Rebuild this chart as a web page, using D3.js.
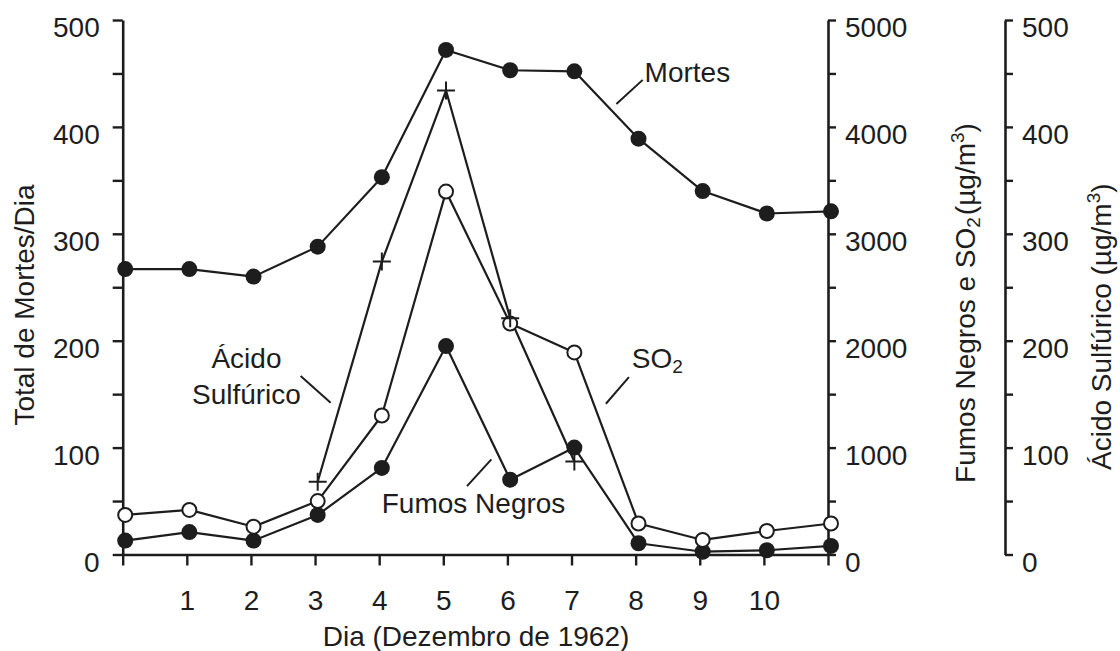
<!DOCTYPE html>
<html>
<head>
<meta charset="utf-8">
<script src="https://cdn.jsdelivr.net/npm/d3@7"></script>
<style>
  html, body { margin: 0; padding: 0; background: #fff; }
  svg { display: block; font-family: "Liberation Sans", Arial, Helvetica, sans-serif; }
</style>
</head>
<body>
<svg id="chart" width="1120" height="651"></svg>
<script>
// London smog, December 1962: daily deaths and pollutant concentrations
const days = [0, 1, 2, 3, 4, 5, 6, 7, 8, 9, 10, 11];
const mortes = [267, 267, 260, 288, 353, 472, 453, 452, 389, 340, 319, 321];          // deaths per day
const fumosNegros = [130, 210, 130, 370, 810, 1950, 700, 1000, 105, 26, 40, 80];     // µg/m³
const so2 = [370, 417, 260, 500, 1300, 3395, 2160, 1890, 290, 136, 220, 290];         // µg/m³
const acidoDays = [3, 4, 5, 6, 7];
const acidoSulfurico = [68, 274, 434, 221, 87];                                       // µg/m³

const dayTicks = d3.range(0, 12);
const dayLabels = [1, 2, 3, 4, 5, 6, 7, 8, 9, 10];
const mortesTicks = d3.range(0, 501, 50);
const mortesLabels = [0, 100, 200, 300, 400, 500];
const concTicks = d3.range(0, 5001, 500);
const concLabels = [0, 1000, 2000, 3000, 4000, 5000];
const acidoTicks = d3.range(0, 501, 50);
const acidoLabels = [0, 100, 200, 300, 400, 500];

const INK = "#1d1d1d";
const FONT = 28;

const svg = d3.select("#chart");

const x = d3.scaleLinear().domain([0, 11]).range([122.7, 828]);
const xData = x.copy().range([125.2, 831]);
const yMortes = d3.scaleLinear().domain([0, 500]).range([554.5, 20]);
const yConc = d3.scaleLinear().domain([0, 5000]).range([554.5, 20]);
const yAcido = d3.scaleLinear().domain([0, 500]).range([554.5, 20]);

function styleAxis(g) {
  g.attr("font-family", null).attr("font-size", null);
  g.select(".domain").attr("stroke", INK).attr("stroke-width", 2.6);
  g.selectAll(".tick line").attr("stroke", INK).attr("stroke-width", 2.4);
  g.selectAll(".tick text").attr("fill", INK).style("font-size", FONT + "px");
}

// Left axis: deaths
svg.append("g")
  .attr("transform", `translate(${x(0)},0)`)
  .call(d3.axisLeft(yMortes).tickValues(mortesTicks).tickSize(10).tickSizeOuter(0).tickPadding(13)
    .tickFormat(d => mortesLabels.includes(d) ? d : ""))
  .call(styleAxis)
  .call(g => g.selectAll(".tick text").attr("dy", "0.6em"));

// Right axis: black smoke and SO2
svg.append("g")
  .attr("transform", `translate(${x(11)},0)`)
  .call(d3.axisRight(yConc).tickValues(concTicks).tickSize(8).tickSizeOuter(0).tickPadding(9)
    .tickFormat(d => concLabels.includes(d) ? d : ""))
  .call(styleAxis)
  .call(g => g.selectAll(".tick text").attr("dy", "0.6em"));

// Outer right axis: sulphuric acid
svg.append("g")
  .attr("transform", "translate(1005,0)")
  .call(d3.axisRight(yAcido).tickValues(acidoTicks).tickSize(8).tickSizeOuter(0).tickPadding(9)
    .tickFormat(d => acidoLabels.includes(d) ? d : ""))
  .call(styleAxis)
  .call(g => g.selectAll(".tick text").attr("dy", "0.6em"));

// Bottom axis: day
svg.append("g")
  .attr("transform", `translate(0,${yMortes(0)})`)
  .call(d3.axisBottom(x).tickValues(dayTicks).tickSize(11).tickSizeOuter(0).tickPadding(25)
    .tickFormat(d => dayLabels.includes(d) ? d : ""))
  .call(styleAxis);

// Axis titles
svg.append("text")
  .attr("transform", "translate(34,305) rotate(-90)")
  .attr("text-anchor", "middle")
  .attr("fill", INK).style("font-size", FONT + "px")
  .text("Total de Mortes/Dia");

svg.append("text")
  .attr("x", 476).attr("y", 646)
  .attr("text-anchor", "middle")
  .attr("fill", INK).style("font-size", FONT + "px")
  .text("Dia (Dezembro de 1962)");

function unitTitle(sel, main, sub) {
  sel.append("tspan").text(main);
  if (sub) {
    sel.append("tspan").attr("dy", 5).style("font-size", "19px").text(sub);
    sel.append("tspan").attr("dy", -5).attr("dx", 2).text("(µg/m");
  } else {
    sel.append("tspan").text(" (µg/m");
  }
  sel.append("tspan").attr("dy", -11).style("font-size", "19px").text("3");
  sel.append("tspan").attr("dy", 11).text(")");
}

svg.append("text")
  .attr("transform", "translate(975,303) rotate(-90)")
  .attr("text-anchor", "middle")
  .attr("fill", INK).style("font-size", FONT + "px")
  .call(unitTitle, "Fumos Negros e SO", "2");

svg.append("text")
  .attr("transform", "translate(1111,470) rotate(-90)")
  .attr("text-anchor", "start")
  .attr("fill", INK).style("font-size", FONT + "px")
  .call(unitTitle, "Ácido Sulfúrico", null);

// Series lines
const plot = svg.append("g");

function drawLine(xs, ys, yScale) {
  const pts = xs.map((d, i) => [xData(d), yScale(ys[i])]);
  plot.append("path")
    .attr("d", d3.line()(pts))
    .attr("fill", "none")
    .attr("stroke", INK)
    .attr("stroke-width", 2.2)
    .attr("stroke-linejoin", "round");
  return pts;
}

const mortesPts = drawLine(days, mortes, yMortes);
const so2Pts = drawLine(days, so2, yConc);
const fumosPts = drawLine(days, fumosNegros, yConc);
const acidoPts = drawLine(acidoDays, acidoSulfurico, yAcido);

// Markers
plot.selectAll(".m-mortes").data(mortesPts).join("circle")
  .attr("cx", d => d[0]).attr("cy", d => d[1]).attr("r", 8).attr("fill", INK);
plot.selectAll(".m-fumos").data(fumosPts).join("circle")
  .attr("cx", d => d[0]).attr("cy", d => d[1]).attr("r", 8).attr("fill", INK);
plot.selectAll(".m-so2").data(so2Pts).join("circle")
  .attr("cx", d => d[0]).attr("cy", d => d[1]).attr("r", 7)
  .attr("fill", "#fff").attr("stroke", INK).attr("stroke-width", 2);
plot.selectAll(".m-acido").data(acidoPts).join("path")
  .attr("d", d => `M${d[0] - 9},${d[1]}H${d[0] + 9}M${d[0]},${d[1] - 9}V${d[1] + 9}`)
  .attr("stroke", INK).attr("stroke-width", 2).attr("fill", "none");

// Series labels with leader lines (positions in chart units: day, deaths-scale value)
const notes = svg.append("g").attr("fill", INK).style("font-size", FONT + "px");

function leader(d1, v1, d2, v2) {
  notes.append("line")
    .attr("x1", x(d1)).attr("y1", yMortes(v1))
    .attr("x2", x(d2)).attr("y2", yMortes(v2))
    .attr("stroke", INK).attr("stroke-width", 2);
}

notes.append("text").attr("x", x(8.14)).attr("y", yMortes(442)).text("Mortes");
leader(7.70, 421.5, 8.11, 444);

notes.append("text").attr("x", x(4.04)).attr("y", yMortes(38.5)).text("Fumos Negros");
leader(5.37, 64, 5.75, 89);

notes.append("text").attr("x", x(1.93)).attr("y", yMortes(174.5)).attr("text-anchor", "middle").text("Ácido");
notes.append("text").attr("x", x(1.93)).attr("y", yMortes(141)).attr("text-anchor", "middle").text("Sulfúrico");
leader(2.775, 167, 3.243, 142);

const so2Label = notes.append("text").attr("x", x(7.94)).attr("y", yMortes(174.5));
so2Label.append("tspan").text("SO");
so2Label.append("tspan").attr("dy", 5).style("font-size", "19px").text("2");
leader(7.536, 141, 7.895, 166);
</script>
</body>
</html>
